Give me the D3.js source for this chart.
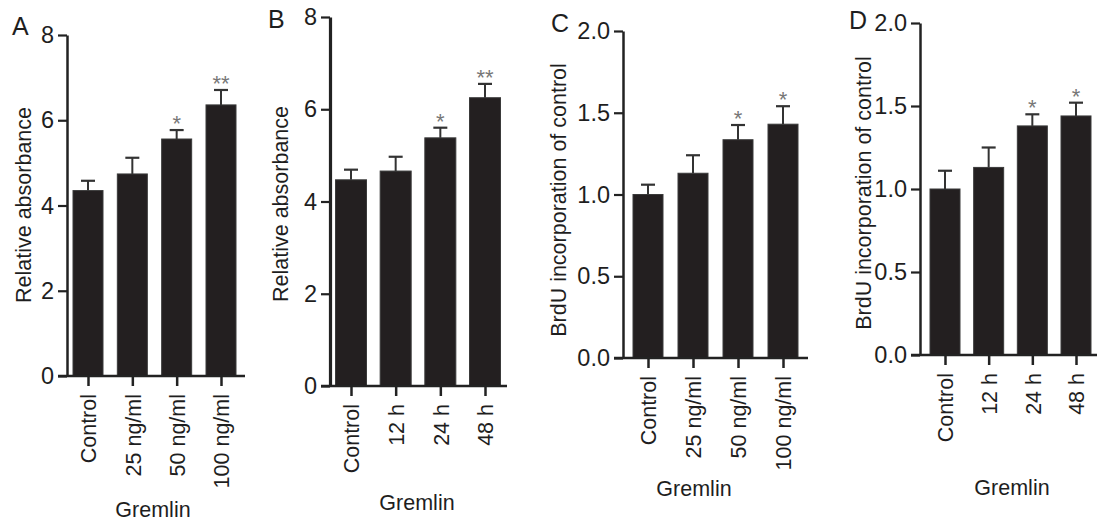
<!DOCTYPE html>
<html>
<head>
<meta charset="utf-8">
<script src="https://cdn.jsdelivr.net/npm/d3@7"></script>
<style>
  body { margin: 0; background: #fff; }
  text { font-family: "Liberation Sans", Arial, sans-serif; fill: #1e1e1e; }
</style>
</head>
<body>
<div id="chart"></div>
<script>
// data
var doseCats = ["Control", "25 ng/ml", "50 ng/ml", "100 ng/ml"];
var timeCats = ["Control", "12 h", "24 h", "48 h"];

var absDose = [4.35, 4.74, 5.56, 6.36];
var absDoseErr = [0.23, 0.38, 0.21, 0.35];
var absTime = [4.47, 4.66, 5.38, 6.25];
var absTimeErr = [0.22, 0.31, 0.22, 0.30];

var brduDose = [1.0, 1.13, 1.335, 1.43];
var brduDoseErr = [0.06, 0.11, 0.09, 0.11];
var brduTime = [1.0, 1.13, 1.38, 1.44];
var brduTimeErr = [0.11, 0.12, 0.07, 0.08];

var sigAbs = ["", "", "*", "**"];
var sigBrdu = ["", "", "*", "*"];

var absTicks = [0, 2, 4, 6, 8];
var brduTicks = [0, 0.5, 1.0, 1.5, 2.0];

var absLabel = "Relative absorbance";
var brduLabel = "BrdU incorporation of control";
var xTitle = "Gremlin";

var svgWidth = 1097;
var svgHeight = 525;

var svg = d3.select("#chart")
  .append("svg")
  .attr("width", svgWidth)
  .attr("height", svgHeight);

// one entry per panel; layout lives here, values come from the arrays above
var panels = [
  { letter: "A", cats: doseCats, vals: absDose, errs: absDoseErr, sig: sigAbs,
    ticks: absTicks, max: 8, fmt: d3.format("d"), ylab: absLabel,
    axisX: 67, xEnd: 245, y0: 376, yTop: 35, c0: 88, c1: 221, barW: 30,
    letterX: 12, letterY: 35, ylabX: 23, ylabY: 205, titleX: 153, titleY: 517, axisW: 2.5 },
  { letter: "B", cats: timeCats, vals: absTime, errs: absTimeErr, sig: sigAbs,
    ticks: absTicks, max: 8, fmt: d3.format("d"), ylab: absLabel,
    axisX: 330, xEnd: 507, y0: 386, yTop: 17, c0: 351, c1: 485, barW: 31,
    letterX: 268, letterY: 28, ylabX: 280, ylabY: 204, titleX: 417, titleY: 510, axisW: 3.2 },
  { letter: "C", cats: doseCats, vals: brduDose, errs: brduDoseErr, sig: sigBrdu,
    ticks: brduTicks, max: 2, fmt: d3.format(".1f"), ylab: brduLabel,
    axisX: 623, xEnd: 808, y0: 358, yTop: 31, c0: 648, c1: 783, barW: 30,
    letterX: 551, letterY: 32, ylabX: 558, ylabY: 200, titleX: 694, titleY: 496, axisW: 2.5 },
  { letter: "D", cats: timeCats, vals: brduTime, errs: brduTimeErr, sig: sigBrdu,
    ticks: brduTicks, max: 2, fmt: d3.format(".1f"), ylab: brduLabel,
    axisX: 920, xEnd: 1097, y0: 355, yTop: 23, c0: 945, c1: 1076, barW: 30,
    letterX: 849, letterY: 29, ylabX: 863, ylabY: 193, titleX: 1012, titleY: 495, axisW: 2.5 }
];

panels.forEach(function(p) {
  var g = svg.append("g");

  var y = d3.scaleLinear().domain([0, p.max]).range([p.y0, p.yTop]);
  var x = d3.scalePoint().domain(p.cats).range([p.c0, p.c1]);

  // bars
  g.selectAll("rect.bar")
    .data(p.vals)
    .enter()
    .append("rect")
    .attr("class", "bar")
    .attr("x", (d, i) => x(p.cats[i]) - p.barW / 2)
    .attr("y", d => y(d))
    .attr("width", p.barW)
    .attr("height", d => y(0) - y(d))
    .attr("fill", "#231f20")
    .attr("stroke", "#3a3a3a")
    .attr("stroke-width", 1);

  // error bars (upper only)
  g.selectAll("line.err")
    .data(p.vals)
    .enter()
    .append("line")
    .attr("x1", (d, i) => x(p.cats[i]))
    .attr("x2", (d, i) => x(p.cats[i]))
    .attr("y1", d => y(d))
    .attr("y2", (d, i) => y(d + p.errs[i]))
    .attr("stroke", "#333")
    .attr("stroke-width", 2);

  g.selectAll("line.cap")
    .data(p.vals)
    .enter()
    .append("line")
    .attr("x1", (d, i) => x(p.cats[i]) - 7)
    .attr("x2", (d, i) => x(p.cats[i]) + 7)
    .attr("y1", (d, i) => y(d + p.errs[i]))
    .attr("y2", (d, i) => y(d + p.errs[i]))
    .attr("stroke", "#333")
    .attr("stroke-width", 2.2);

  // significance stars
  g.selectAll("text.sig")
    .data(p.sig)
    .enter()
    .append("text")
    .attr("x", (d, i) => x(p.cats[i]))
    .attr("y", (d, i) => y(p.vals[i] + p.errs[i]) + 1)
    .attr("text-anchor", "middle")
    .style("font-size", "22px")
    .style("fill", "#777")
    .text(d => d);

  // y axis
  var leftAxis = d3.axisLeft(y)
    .tickValues(p.ticks)
    .tickFormat(p.fmt)
    .tickSize(9)
    .tickSizeOuter(0)
    .tickPadding(4);

  var ya = g.append("g")
    .attr("transform", `translate(${p.axisX},0)`)
    .call(leftAxis);
  ya.select(".domain").attr("stroke", "#222").attr("stroke-width", p.axisW);
  ya.selectAll(".tick line").attr("stroke", "#222").attr("stroke-width", 2.2);
  ya.selectAll(".tick text")
    .style("font-size", "23.5px")
    .style("font-family", "'Liberation Sans', Arial, sans-serif")
    .attr("fill", "#1e1e1e");

  // x axis line, starting where the 0 tick starts
  g.append("line")
    .attr("x1", p.axisX - 9)
    .attr("x2", p.xEnd)
    .attr("y1", p.y0)
    .attr("y2", p.y0)
    .attr("stroke", "#222")
    .attr("stroke-width", 2.5);

  var bottomAxis = d3.axisBottom(x).tickSize(10).tickSizeOuter(0);
  var xa = g.append("g")
    .attr("transform", `translate(0,${p.y0})`)
    .call(bottomAxis);
  xa.select(".domain").remove();
  xa.selectAll(".tick line").attr("stroke", "#222").attr("stroke-width", 2.5);
  xa.selectAll(".tick text")
    .attr("transform", "rotate(-90)")
    .attr("x", -18)
    .attr("y", 0)
    .attr("dy", "0.36em")
    .style("text-anchor", "end")
    .style("font-size", "21.5px")
    .style("font-family", "'Liberation Sans', Arial, sans-serif")
    .attr("fill", "#1e1e1e");

  // panel letter
  g.append("text")
    .attr("x", p.letterX)
    .attr("y", p.letterY)
    .style("font-size", "25px")
    .text(p.letter);

  // y label
  g.append("text")
    .attr("transform", `translate(${p.ylabX},${p.ylabY}) rotate(-90)`)
    .attr("text-anchor", "middle")
    .attr("dy", "0.36em")
    .style("font-size", "21.5px")
    .text(p.ylab);

  // x title
  g.append("text")
    .attr("x", p.titleX)
    .attr("y", p.titleY)
    .attr("text-anchor", "middle")
    .style("font-size", "21.5px")
    .text(xTitle);
});
</script>
</body>
</html>
